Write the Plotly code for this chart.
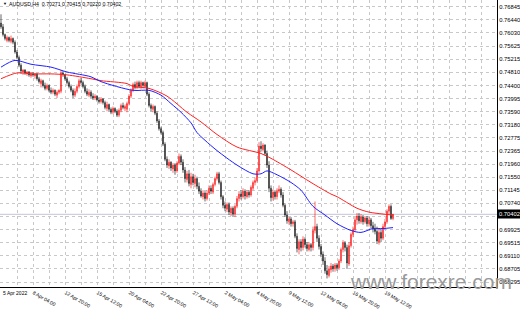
import plotly.graph_objects as go

symbol = "AUDUSD,H4"

opens = [
    0.7634, 0.7622, 0.7598, 0.7580, 0.7589, 0.7577, 0.7586, 0.7574, 0.7544, 0.7527,
    0.7503, 0.7482, 0.7488, 0.7476, 0.7482, 0.7470, 0.7476, 0.7470, 0.7476, 0.7461,
    0.7446, 0.7455, 0.7440, 0.7431, 0.7440, 0.7425, 0.7419, 0.7425, 0.7410, 0.7419,
    0.7422, 0.7479, 0.7473, 0.7461, 0.7449, 0.7437, 0.7425, 0.7410, 0.7422, 0.7437,
    0.7455, 0.7449, 0.7437, 0.7422, 0.7410, 0.7419, 0.7407, 0.7401, 0.7407, 0.7395,
    0.7390, 0.7398, 0.7387, 0.7369, 0.7381, 0.7366, 0.7357, 0.7369, 0.7360, 0.7348,
    0.7363, 0.7378, 0.7369, 0.7366, 0.7384, 0.7407, 0.7425, 0.7443, 0.7434, 0.7449,
    0.7434, 0.7449, 0.7437, 0.7449, 0.7413, 0.7378, 0.7366, 0.7375, 0.7354, 0.7330,
    0.7306, 0.7294, 0.7258, 0.7211, 0.7190, 0.7202, 0.7181, 0.7193, 0.7175, 0.7199,
    0.7220, 0.7202, 0.7178, 0.7148, 0.7166, 0.7133, 0.7157, 0.7136, 0.7151, 0.7127,
    0.7112, 0.7095, 0.7106, 0.7089, 0.7106, 0.7121, 0.7109, 0.7133, 0.7151, 0.7166,
    0.7139, 0.7095, 0.7068, 0.7056, 0.7071, 0.7044, 0.7059, 0.7041, 0.7065, 0.7089,
    0.7103, 0.7095, 0.7112, 0.7095, 0.7109, 0.7100, 0.7121, 0.7139, 0.7145, 0.7175,
    0.7252, 0.7241, 0.7255, 0.7229, 0.7193, 0.7121, 0.7092, 0.7109, 0.7095, 0.7112,
    0.7118, 0.7100, 0.7068, 0.7038, 0.7017, 0.7026, 0.7011, 0.7017, 0.6972, 0.6931,
    0.6955, 0.6937, 0.6963, 0.6946, 0.6931, 0.6946, 0.6937, 0.6990, 0.7002, 0.6966,
    0.6940, 0.6916, 0.6895, 0.6865, 0.6850, 0.6868, 0.6880, 0.6871, 0.6883, 0.6874,
    0.6895, 0.6931, 0.6952, 0.6937, 0.6886, 0.6943, 0.6978, 0.6993, 0.7023, 0.7035,
    0.7017, 0.7032, 0.7017, 0.7029, 0.7011, 0.7023, 0.7005, 0.6996, 0.6987, 0.6954,
    0.6984, 0.6966, 0.7002, 0.7017, 0.7050, 0.7065, 0.70271,
]

highs = [
    0.7661, 0.7631, 0.7601, 0.7595, 0.7592, 0.7595, 0.7589, 0.7580, 0.7550, 0.7533,
    0.7509, 0.7491, 0.7491, 0.7485, 0.7485, 0.7482, 0.7482, 0.7479, 0.7479, 0.7467,
    0.7461, 0.7458, 0.7449, 0.7446, 0.7443, 0.7434, 0.7431, 0.7428, 0.7425, 0.7428,
    0.7488, 0.7485, 0.7476, 0.7467, 0.7455, 0.7443, 0.7431, 0.7431, 0.7443, 0.7461,
    0.7464, 0.7455, 0.7443, 0.7431, 0.7428, 0.7425, 0.7416, 0.7413, 0.7410, 0.7404,
    0.7404, 0.7401, 0.7393, 0.7390, 0.7384, 0.7372, 0.7375, 0.7372, 0.7366, 0.7369,
    0.7384, 0.7387, 0.7381, 0.7390, 0.7413, 0.7431, 0.7449, 0.7452, 0.7455, 0.7455,
    0.7455, 0.7452, 0.7455, 0.7452, 0.7419, 0.7384, 0.7381, 0.7378, 0.7360, 0.7336,
    0.7312, 0.7300, 0.7264, 0.7220, 0.7211, 0.7205, 0.7199, 0.7199, 0.7205, 0.7229,
    0.7226, 0.7211, 0.7187, 0.7175, 0.7178, 0.7169, 0.7166, 0.7163, 0.7157, 0.7139,
    0.7121, 0.7115, 0.7112, 0.7115, 0.7130, 0.7130, 0.7139, 0.7157, 0.7172, 0.7172,
    0.7145, 0.7100, 0.7080, 0.7077, 0.7077, 0.7065, 0.7065, 0.7071, 0.7097, 0.7112,
    0.7115, 0.7121, 0.7118, 0.7115, 0.7115, 0.7130, 0.7145, 0.7154, 0.7184, 0.7264,
    0.7267, 0.7261, 0.7258, 0.7238, 0.7205, 0.7130, 0.7118, 0.7115, 0.7121, 0.7130,
    0.7124, 0.7109, 0.7074, 0.7050, 0.7032, 0.7032, 0.7023, 0.7023, 0.6981, 0.6963,
    0.6963, 0.6972, 0.6969, 0.6954, 0.6954, 0.6951, 0.7002, 0.7080, 0.7011, 0.6975,
    0.6948, 0.6925, 0.6907, 0.6883, 0.6880, 0.6889, 0.6886, 0.6889, 0.6889, 0.6901,
    0.6937, 0.6960, 0.6957, 0.6946, 0.6954, 0.6984, 0.7002, 0.7032, 0.7044, 0.7044,
    0.7041, 0.7038, 0.7035, 0.7035, 0.7032, 0.7029, 0.7017, 0.7011, 0.7002, 0.6996,
    0.6996, 0.7011, 0.7026, 0.7056, 0.7071, 0.7071, 0.70415,
]

lows = [
    0.7616, 0.7592, 0.7580, 0.7574, 0.7574, 0.7571, 0.7568, 0.7539, 0.7521, 0.7497,
    0.7476, 0.7473, 0.7473, 0.7470, 0.7467, 0.7464, 0.7467, 0.7461, 0.7455, 0.7446,
    0.7434, 0.7434, 0.7425, 0.7425, 0.7419, 0.7413, 0.7413, 0.7407, 0.7401, 0.7413,
    0.7416, 0.7467, 0.7455, 0.7443, 0.7431, 0.7419, 0.7401, 0.7404, 0.7416, 0.7431,
    0.7443, 0.7431, 0.7416, 0.7407, 0.7404, 0.7401, 0.7395, 0.7395, 0.7390, 0.7384,
    0.7384, 0.7381, 0.7366, 0.7360, 0.7360, 0.7351, 0.7351, 0.7354, 0.7342, 0.7342,
    0.7357, 0.7366, 0.7360, 0.7357, 0.7378, 0.7401, 0.7419, 0.7428, 0.7428, 0.7431,
    0.7428, 0.7431, 0.7431, 0.7407, 0.7372, 0.7360, 0.7357, 0.7348, 0.7324, 0.7300,
    0.7288, 0.7252, 0.7205, 0.7184, 0.7181, 0.7175, 0.7169, 0.7163, 0.7169, 0.7193,
    0.7193, 0.7169, 0.7139, 0.7139, 0.7127, 0.7121, 0.7130, 0.7124, 0.7118, 0.7103,
    0.7092, 0.7086, 0.7080, 0.7083, 0.7100, 0.7103, 0.7103, 0.7127, 0.7145, 0.7133,
    0.7086, 0.7059, 0.7050, 0.7047, 0.7038, 0.7035, 0.7032, 0.7032, 0.7059, 0.7080,
    0.7086, 0.7089, 0.7086, 0.7089, 0.7092, 0.7095, 0.7115, 0.7130, 0.7139, 0.7169,
    0.7235, 0.7235, 0.7223, 0.7184, 0.7109, 0.7080, 0.7083, 0.7086, 0.7086, 0.7106,
    0.7092, 0.7062, 0.7032, 0.7011, 0.7008, 0.7002, 0.7002, 0.6966, 0.6922, 0.6916,
    0.6925, 0.6928, 0.6937, 0.6925, 0.6925, 0.6925, 0.6928, 0.6981, 0.6954, 0.6931,
    0.6907, 0.6883, 0.6856, 0.6841, 0.6844, 0.6859, 0.6862, 0.6862, 0.6865, 0.6868,
    0.6889, 0.6922, 0.6925, 0.6871, 0.6880, 0.6937, 0.6969, 0.6987, 0.7008, 0.7011,
    0.7011, 0.7008, 0.7011, 0.7002, 0.7002, 0.6996, 0.6984, 0.6978, 0.6948, 0.6946,
    0.6954, 0.6960, 0.6993, 0.7011, 0.7041, 0.7023, 0.70220,
]

closes = [
    0.7622, 0.7598, 0.7586, 0.7589, 0.7580, 0.7586, 0.7574, 0.7544, 0.7527, 0.7503,
    0.7485, 0.7488, 0.7479, 0.7482, 0.7473, 0.7476, 0.7473, 0.7476, 0.7461, 0.7452,
    0.7455, 0.7440, 0.7431, 0.7440, 0.7425, 0.7419, 0.7425, 0.7413, 0.7419, 0.7425,
    0.7479, 0.7473, 0.7461, 0.7449, 0.7437, 0.7425, 0.7410, 0.7422, 0.7437, 0.7455,
    0.7449, 0.7437, 0.7422, 0.7413, 0.7419, 0.7407, 0.7401, 0.7407, 0.7395, 0.7390,
    0.7398, 0.7387, 0.7372, 0.7381, 0.7366, 0.7357, 0.7369, 0.7360, 0.7348, 0.7363,
    0.7378, 0.7372, 0.7375, 0.7384, 0.7407, 0.7425, 0.7443, 0.7434, 0.7449, 0.7437,
    0.7449, 0.7440, 0.7449, 0.7413, 0.7378, 0.7369, 0.7375, 0.7354, 0.7330, 0.7306,
    0.7294, 0.7258, 0.7211, 0.7193, 0.7202, 0.7184, 0.7193, 0.7175, 0.7199, 0.7220,
    0.7202, 0.7178, 0.7151, 0.7166, 0.7136, 0.7157, 0.7139, 0.7151, 0.7127, 0.7112,
    0.7097, 0.7106, 0.7089, 0.7106, 0.7121, 0.7112, 0.7133, 0.7151, 0.7166, 0.7139,
    0.7095, 0.7068, 0.7059, 0.7071, 0.7047, 0.7059, 0.7041, 0.7065, 0.7089, 0.7103,
    0.7095, 0.7112, 0.7097, 0.7109, 0.7100, 0.7124, 0.7139, 0.7145, 0.7175, 0.7252,
    0.7244, 0.7255, 0.7229, 0.7193, 0.7121, 0.7092, 0.7109, 0.7095, 0.7112, 0.7118,
    0.7100, 0.7068, 0.7038, 0.7020, 0.7026, 0.7011, 0.7017, 0.6972, 0.6934, 0.6955,
    0.6937, 0.6963, 0.6946, 0.6934, 0.6946, 0.6937, 0.6990, 0.7002, 0.6966, 0.6940,
    0.6916, 0.6895, 0.6865, 0.6853, 0.6871, 0.6880, 0.6871, 0.6883, 0.6874, 0.6895,
    0.6931, 0.6952, 0.6937, 0.6889, 0.6943, 0.6978, 0.6993, 0.7023, 0.7035, 0.7020,
    0.7032, 0.7017, 0.7029, 0.7011, 0.7023, 0.7005, 0.6996, 0.6987, 0.6957, 0.6984,
    0.6966, 0.7002, 0.7017, 0.7050, 0.7065, 0.70271, 0.70402,
]

# moving averages read at selected bars
blue_idx = [0, 7, 15, 25, 33, 45, 50, 66, 74, 80, 85, 90, 95, 98, 102, 108, 118, 126,
            130, 133, 138, 145, 150, 156, 162, 168, 175, 180, 186, 191, 196]
blue_ma = [0.7497, 0.7518, 0.7506, 0.7497, 0.7482, 0.7467, 0.7452, 0.7425, 0.7425, 0.7410,
           0.7384, 0.7357, 0.7324, 0.7294, 0.7270, 0.7238, 0.7193, 0.7166,
           0.7166, 0.7175, 0.7163, 0.7139, 0.7115, 0.7065, 0.7038, 0.7011, 0.6990, 0.6984,
           0.6996, 0.6996, 0.6999]

red_idx = [0, 8, 16, 25, 33, 45, 50, 63, 66, 74, 83, 93, 100, 108, 118, 130, 135, 145,
           155, 165, 168, 178, 184, 191, 196]
red_ma = [0.7461, 0.7479, 0.7476, 0.7476, 0.7473, 0.7461, 0.7455, 0.7446, 0.7437, 0.7431,
          0.7407, 0.7357, 0.7327, 0.7288, 0.7249, 0.7229, 0.7214, 0.7178,
          0.7139, 0.7103, 0.7095, 0.7059, 0.7047, 0.7041, 0.7038]

date_ticks = [0, 16, 32, 48, 64, 80, 96, 112, 128, 144, 160, 176, 192, 208, 224, 240]
date_labels = ["5 Apr 2022", "8 Apr 04:00", "12 Apr 20:00", "15 Apr 12:00", "20 Apr 04:00",
               "22 Apr 20:00", "27 Apr 12:00", "2 May 04:00", "4 May 20:00", "9 May 12:00",
               "12 May 04:00", "16 May 20:00", "19 May 12:00", "", "", ""]

price_ticks = [0.76845, 0.76440, 0.76030, 0.75625, 0.75215, 0.74810, 0.74400, 0.73995,
               0.73590, 0.73180, 0.72775, 0.72365, 0.71960, 0.71550, 0.71145, 0.70740,
               0.70335, 0.69925, 0.69515, 0.69110, 0.68705, 0.68295]
price_labels = [f"{p:.5f}" if p != 0.70335 else "" for p in price_ticks]

bar_index = list(range(len(closes)))
last_price = closes[-1]

FONT = "Liberation Sans"
GRID = "#c8c8c8"

fig = go.Figure()
fig.add_trace(go.Candlestick(
    x=bar_index, open=opens, high=highs, low=lows, close=closes,
    increasing=dict(line=dict(color="#ff0000", width=0.6), fillcolor="#ff0000"),
    decreasing=dict(line=dict(color="#000000", width=0.6), fillcolor="#000000"),
    whiskerwidth=0, showlegend=False, hoverinfo="skip",
))
fig.add_trace(go.Scatter(
    x=red_idx, y=red_ma, mode="lines",
    line=dict(color="#ff2020", width=1, shape="spline", smoothing=0.8),
    showlegend=False, hoverinfo="skip",
))
fig.add_trace(go.Scatter(
    x=blue_idx, y=blue_ma, mode="lines",
    line=dict(color="#2020ff", width=1, shape="spline", smoothing=0.8),
    showlegend=False, hoverinfo="skip",
))

fig.add_shape(type="line", xref="paper", x0=0, x1=1, yref="y", y0=last_price, y1=last_price,
              line=dict(color="#c4c4dc", width=1), layer="below")

xlabel_font = dict(size=5.0, family=FONT, color="black")

fig.update_layout(
    width=520, height=310,
    margin=dict(l=0, r=23, t=0, b=11),
    paper_bgcolor="white", plot_bgcolor="white",
    font=dict(family=FONT, color="black"),
    showlegend=False,
    boxgap=0.6,
    xaxis=dict(
        range=[-0.5, 248], rangeslider=dict(visible=False),
        tickmode="array", tickvals=date_ticks,
        ticktext=[""] + date_labels[1:],
        ticklabelposition="outside right", ticks="",
        tickfont=xlabel_font,
        showline=True, linecolor="black", linewidth=1, mirror=False,
        showgrid=True, gridcolor=GRID, griddash="dot", gridwidth=1,
        minor=dict(tick0=8, dtick=16, showgrid=True, gridcolor=GRID, griddash="dot", gridwidth=1),
        zeroline=False, fixedrange=True,
    ),
    yaxis=dict(
        side="right", range=[0.68146, 0.77054],
        tickmode="array", tickvals=price_ticks, ticktext=price_labels, ticks="",
        tickfont=dict(size=5.8, family=FONT, color="black"),
        showline=True, linecolor="black", linewidth=1,
        showgrid=True, gridcolor=GRID, griddash="dot", gridwidth=1,
        zeroline=False, fixedrange=True,
    ),
)

# first date label, left-aligned at its bar like the others
fig.add_annotation(text=date_labels[0], xref="x", yref="paper", x=date_ticks[0], y=0,
                   xanchor="left", yanchor="top", yshift=-1, showarrow=False,
                   font=xlabel_font)

header = f"{symbol}  {opens[-1]:.5f} {highs[-1]:.5f} {lows[-1]:.5f} {closes[-1]:.5f}"
fig.add_annotation(text="▼", xref="paper", yref="paper", x=0.002, y=0.988,
                   xanchor="left", yanchor="middle", showarrow=False,
                   font=dict(size=4, color="black", family=FONT))
fig.add_annotation(text=header, xref="paper", yref="paper", x=0.014, y=0.987,
                   xanchor="left", yanchor="middle", showarrow=False,
                   font=dict(size=5.2, color="black", family=FONT))
fig.add_annotation(text=f"{last_price:.5f}", xref="paper", yref="y", x=1.0, y=last_price,
                   xanchor="left", yanchor="middle", showarrow=False, bgcolor="black",
                   borderpad=1, font=dict(size=5.8, color="white", family=FONT))
fig.add_annotation(text="www.forexre.com", xref="paper", yref="paper", x=0.867, y=0.02,
                   xanchor="center", yanchor="middle", showarrow=False,
                   font=dict(size=21, color="#999999", family=FONT))

fig.write_html("out.html")
